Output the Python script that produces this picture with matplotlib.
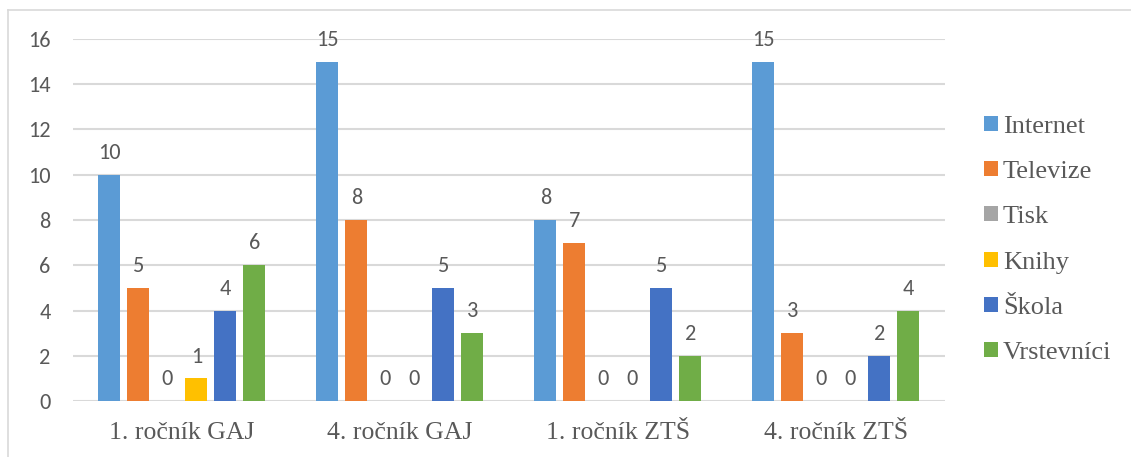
import numpy as np
import matplotlib.pyplot as plt

groups = ['1. ročník GAJ', '4. ročník GAJ', '1. ročník ZTŠ', '4. ročník ZTŠ']
series = ['Internet', 'Televize', 'Tisk', 'Knihy', 'Škola', 'Vrstevníci']
internet = [10, 15, 8, 15]
televize = [5, 8, 7, 3]
tisk = [0, 0, 0, 0]
knihy = [1, 0, 0, 0]
skola = [4, 5, 5, 2]
vrstevnici = [6, 3, 2, 4]
colors = ['#5b9bd5', '#ed7d31', '#a5a5a5', '#ffc000', '#4472c4', '#70ad47']

values = [internet, televize, tisk, knihy, skola, vrstevnici]

text_grey = '#595959'
sans = 'Carlito'
serif = 'Liberation Serif'

fig = plt.figure(figsize=(11.31, 4.57), dpi=100)
ax = fig.add_axes([0.0645, 0.1225, 0.771, 0.7922])

x = np.arange(len(groups))
step = 0.133
width = 0.101
for j, (name, vals, col) in enumerate(zip(series, values, colors)):
    pos = x + (j - 2.5) * step
    ax.bar(pos, vals, width=width, color=col, label=name, zorder=3)
    for px, v in zip(pos, vals):
        ax.annotate(str(v), (px, v), xytext=(0, 8.5), textcoords='offset points',
                    ha='center', va='bottom', fontsize=16, fontfamily=sans,
                    color=text_grey)

ax.set_xlim(-0.5, 3.5)
ax.set_ylim(0, 16)
ax.set_yticks(range(0, 17, 2))
ax.set_xticks(x)
ax.set_xticklabels(groups, fontfamily=serif, fontsize=18.5, color=text_grey)
for lab in ax.get_yticklabels():
    lab.set_fontfamily(sans)
    lab.set_fontsize(16)
    lab.set_color(text_grey)
ax.tick_params(axis='both', length=0)
ax.tick_params(axis='y', pad=16)
ax.tick_params(axis='x', pad=15)
ax.grid(axis='y', color='#d9d9d9', linewidth=1.5, zorder=0)
for s in ax.spines.values():
    s.set_visible(False)

leg = ax.legend(loc='center left', bbox_to_anchor=(1.018, 0.445), frameon=False,
                prop={'family': serif, 'size': 19}, handlelength=0.5,
                handleheight=0.5, handletextpad=0.2, labelspacing=0.88,
                labelcolor=text_grey)

# chart frame, open at the right and bottom edges
fig.add_artist(plt.Line2D([8 / 1131, 1], [1 - 10 / 457] * 2, color='#d9d9d9',
                          linewidth=1.2, transform=fig.transFigure))
fig.add_artist(plt.Line2D([8 / 1131] * 2, [0, 1 - 10 / 457], color='#d9d9d9',
                          linewidth=1.2, transform=fig.transFigure))

fig.savefig('out.png', dpi=100)
